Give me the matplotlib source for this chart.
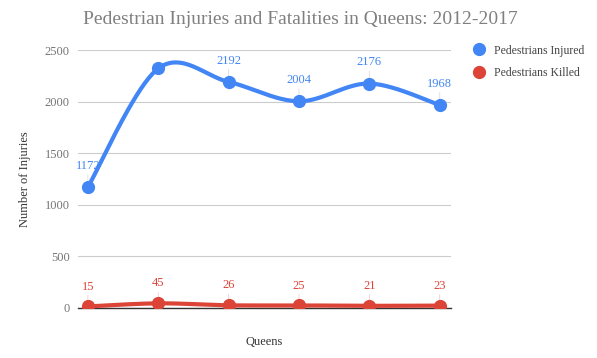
import numpy as np
import matplotlib
matplotlib.use("Agg")
import matplotlib.pyplot as plt

plt.rcParams["font.family"] = ["Liberation Serif", "DejaVu Serif"]

years = ["2012", "2013", "2014", "2015", "2016", "2017"]
injured = [1172, 2322, 2192, 2004, 2176, 1968]
killed = [15, 45, 26, 25, 21, 23]
show_label_injured = [True, False, True, True, True, True]

BLUE = "#4285F4"
RED = "#DB4437"


def smooth(xs, ys, n=40):
    # Catmull-Rom style curve, like Google's curveType 'function'
    xs = np.asarray(xs, float)
    ys = np.asarray(ys, float)
    px = np.concatenate([[xs[0]], xs, [xs[-1]]])
    py = np.concatenate([[ys[0]], ys, [ys[-1]]])
    out_x, out_y = [], []
    for i in range(1, len(px) - 2):
        t = np.linspace(0, 1, n)
        for p, out in ((px, out_x), (py, out_y)):
            p0, p1, p2, p3 = p[i - 1], p[i], p[i + 1], p[i + 2]
            out.extend(0.5 * ((2 * p1) + (-p0 + p2) * t
                              + (2 * p0 - 5 * p1 + 4 * p2 - p3) * t ** 2
                              + (-p0 + 3 * p1 - 3 * p2 + p3) * t ** 3))
    return np.array(out_x), np.array(out_y)


fig = plt.figure(figsize=(5.97, 3.58), dpi=100)
ax = fig.add_axes([0.1307, 0.1397, 0.7554 - 0.1307, 0.860 - 0.1397])

x = np.arange(len(years))
for vals, color, label in [(injured, BLUE, "Pedestrians Injured"),
                           (killed, RED, "Pedestrians Killed")]:
    sx, sy = smooth(x, vals)
    ax.plot(sx, sy, color=color, lw=3.0, solid_capstyle="round", zorder=3)
    ax.plot(x, vals, "o", color=color, ms=8.5, zorder=4, label=label)

# data labels with thin stems
for xi, v, show in zip(x, injured, show_label_injured):
    if show:
        ax.annotate(str(v), (xi, v), xytext=(0, 11), textcoords="offset points",
                    ha="center", va="bottom", color=BLUE, fontsize=9)
        ax.annotate("", (xi, v), xytext=(0, 11), textcoords="offset points",
                    arrowprops=dict(arrowstyle="-", color="#dddddd", lw=0.6))
for xi, v in zip(x, killed):
    ax.annotate(str(v), (xi, v), xytext=(0, 10), textcoords="offset points",
                ha="center", va="bottom", color=RED, fontsize=9)
    ax.annotate("", (xi, v), xytext=(0, 10), textcoords="offset points",
                arrowprops=dict(arrowstyle="-", color="#f0d0d0", lw=0.6))

ax.set_xlim(-0.14, 5.16)
ax.set_ylim(0, 2500)
ax.set_yticks([0, 500, 1000, 1500, 2000, 2500])
ax.set_xticks([])
ax.tick_params(axis="y", length=0, labelsize=9, labelcolor="#757575", pad=6)
ax.grid(axis="y", color="#cccccc", lw=0.8)
ax.set_axisbelow(True)
for s in ["top", "right", "left"]:
    ax.spines[s].set_visible(False)
ax.spines["bottom"].set_color("#333333")
ax.spines["bottom"].set_linewidth(1.0)

ax.set_ylabel("Number of Injuries", fontsize=9, color="#333333", labelpad=10)
ax.set_xlabel("Queens", fontsize=9, color="#333333", labelpad=20)

fig.text(0.503, 0.945, "Pedestrian Injuries and Fatalities in Queens: 2012-2017",
         ha="center", va="center", fontsize=14, color="#808080")

leg = ax.legend(loc="upper left", bbox_to_anchor=(1.03, 1.04), frameon=False,
                fontsize=8.5, handletextpad=0.3, labelspacing=0.9,
                markerscale=1.0, borderaxespad=0)
for t in leg.get_texts():
    t.set_color("#444444")

fig.savefig("out.png", dpi=100)
